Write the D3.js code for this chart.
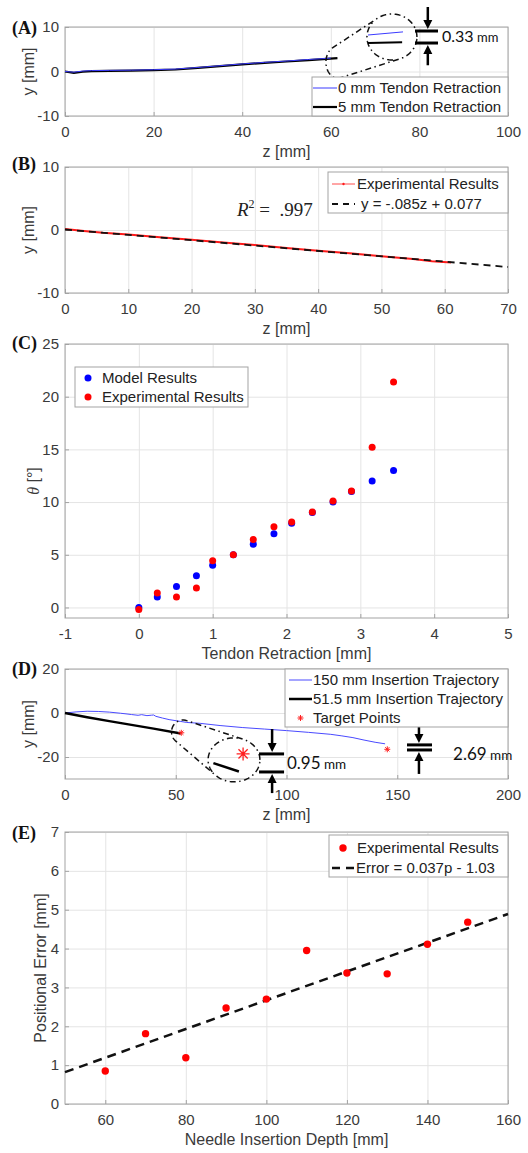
<!DOCTYPE html>
<html><head><meta charset="utf-8">
<script src="https://cdn.jsdelivr.net/npm/d3@7"></script>
<style>
body{margin:0;background:#fff}
svg{display:block}
</style>
</head><body>
<svg id="c" width="528" height="1153" font-family='"Liberation Sans",Arial,Helvetica,sans-serif'></svg>
<script>
// ---------------- DATA ----------------
// Panel A
const aBlackZ = [0,2,4,6,10,15,20,25,30,35,40,45,50,55,61.5];
const aBlackY = [0,-0.3,-0.05,0.1,0.15,0.2,0.3,0.45,0.8,1.2,1.6,1.95,2.25,2.55,3.0];
const aBlueZ  = [0,2,4,6,10,15,20,25,30,35,40,45,50,55,60];
const aBlueY  = [0,-0.15,0.1,0.2,0.25,0.3,0.4,0.55,0.9,1.3,1.7,2.05,2.35,2.7,3.0];
const aXTicks = [0,20,40,60,80,100];
const aYTicks = [-10,0,10];
const aLegend = ["0 mm Tendon Retraction","5 mm Tendon Retraction"];
// Panel B
const bExpZ = [0,3,6,10,15,20,25,30,35,40,45,50,55,58,61];
const bExpY = [0.15,-0.15,-0.45,-0.7,-1.15,-1.55,-2.0,-2.4,-2.85,-3.3,-3.7,-4.15,-4.6,-4.95,-5.15];
const bFit = {slope:-0.085, intercept:0.077, from:0, to:70};
const bXTicks = [0,10,20,30,40,50,60,70];
const bYTicks = [-10,0,10];
const bLegend = ["Experimental Results","y = -.085z + 0.077"];
// Panel C
const cRetraction = [0,0.25,0.51,0.78,1.0,1.28,1.55,1.83,2.07,2.35,2.63,2.88,3.16,3.45];
const cModel = [0,1,2,3,4,5,6,7,8,9,10,11,12,13];
const cExp   = [-0.2,1.37,1.0,1.84,4.44,5.0,6.44,7.65,8.1,9.05,10.1,11.05,15.2,21.4];
const cXTicks = [-1,0,1,2,3,4,5];
const cYTicks = [0,5,10,15,20,25];
const cLegend = ["Model Results","Experimental Results"];
// Panel D
const d150Z = [0,5,10,15,20,25,28,30,33,34.6,37,39,40,41,44,47,52,55,61,70,80,90,100,110,120,125,130,135,140,144.5];
const d150Y = [0,0.5,0.8,0.7,0.4,-0.1,-0.45,-0.7,-1.05,-0.75,-1.2,-1.0,-0.9,-1.5,-2.3,-3.0,-3.8,-4.3,-4.7,-5.7,-6.6,-7.3,-8.0,-8.8,-9.7,-10.4,-11.2,-12.3,-13.3,-14.0];
const d515Z = [0,10,20,30,40,52.3];
const d515Y = [0,-1.9,-3.7,-5.4,-7.1,-9.3];
const dTargetZ = [52.5,145.5];
const dTargetY = [-9,-16.5];
const dXTicks = [0,50,100,150,200];
const dYTicks = [-20,0,20];
const dLegend = ["150 mm Insertion Trajectory","51.5 mm Insertion Trajectory","Target Points"];
// Panel E
const eDepth = [60,70,80,90,100,110,120,130,140,150];
const eError = [0.85,1.81,1.19,2.47,2.70,3.95,3.37,3.35,4.11,4.68];
const eFit = {slope:0.037, intercept:-1.03, from:50, to:160};
const eXTicks = [60,80,100,120,140,160];
const eYTicks = [0,1,2,3,4,5,6,7];
const eLegend = ["Experimental Results","Error = 0.037p - 1.03"];

// ---------------- LAYOUT ----------------
const svg = d3.select('#c');
const L = 65, R = 508;
const GRID = '#e4e4e4', FRAME = '#a3a3a3', TXT = '#3a3a3a';
const SANS = '"Liberation Sans",Arial,Helvetica,sans-serif';
const SERIF = '"Liberation Serif","Times New Roman",serif';
const CAL = 'Lato,"Open Sans",sans-serif';

function makePanel(o){
  const x = d3.scaleLinear().domain(o.xd).range([L,R]);
  const y = d3.scaleLinear().domain(o.yd).range([o.bottom,o.top]);
  const g = svg.append('g');
  const h = o.bottom-o.top, w = R-L;
  const gx = g.append('g').attr('transform',`translate(0,${o.bottom})`)
    .call(d3.axisBottom(x).tickValues(o.xticks).tickSize(-h).tickPadding(10).tickFormat(d=>String(d)));
  const gy = g.append('g').attr('transform',`translate(${L},0)`)
    .call(d3.axisLeft(y).tickValues(o.yticks).tickSize(-w).tickPadding(6).tickFormat(d=>String(d)));
  [gx,gy].forEach(a=>{
    a.select('.domain').remove();
    a.selectAll('line').attr('stroke',GRID).attr('stroke-width',1);
    a.selectAll('text').style('font-size','15px').style('font-family',SANS).attr('fill',TXT);
  });
  const tx = g.append('g').attr('transform',`translate(0,${o.bottom})`)
    .call(d3.axisBottom(x).tickValues(o.xticks).tickSize(-4).tickFormat(''));
  const ty = g.append('g').attr('transform',`translate(${L},0)`)
    .call(d3.axisLeft(y).tickValues(o.yticks).tickSize(-4).tickFormat(''));
  [tx,ty].forEach(a=>{a.select('.domain').remove(); a.selectAll('line').attr('stroke',FRAME);});
  g.append('rect').attr('x',L).attr('y',o.top).attr('width',w).attr('height',h)
    .attr('fill','none').attr('stroke',FRAME).attr('stroke-width',1);
  g.append('text').attr('x',(L+R)/2).attr('y',o.bottom+41).attr('text-anchor','middle')
    .style('font-size','16px').style('font-family',SANS).attr('fill',TXT).text(o.xlabel);
  const yl = g.append('text').attr('transform',`translate(${o.ylx},${(o.top+o.bottom)/2}) rotate(-90)`)
    .attr('text-anchor','middle').style('font-size','16px').style('font-family',SANS).attr('fill',TXT);
  if (o.ylabelParts) o.ylabelParts.forEach(p=>{
    const ts = yl.append('tspan').text(p.t);
    if (p.italic) ts.style('font-style','italic').style('font-family',SERIF);
  });
  else yl.text(o.ylabel);
  svg.append('text').attr('x',12).attr('y',o.tagY).style('font-family',SERIF)
    .style('font-weight','bold').style('font-size','18px').attr('fill','#111').text(o.tag);
  return {g,x,y};
}

function legendBox(g, x0, y0, x1, y1){
  g.append('rect').attr('x',x0).attr('y',y0).attr('width',x1-x0).attr('height',y1-y0)
    .attr('fill','#fff').attr('stroke',FRAME).attr('stroke-width',1);
}
function legendText(g, x, yc, t){
  g.append('text').attr('x',x).attr('y',yc).attr('dy','0.35em').style('font-size','15px').style('font-family',SANS)
    .style('white-space','pre').attr('fill','#222').text(t);
}
function asterisk(g, cx, cy, r, color, sw){
  const p = d3.path();
  for (let k=0;k<4;k++){
    const a = k*Math.PI/4;
    p.moveTo(cx - r*Math.cos(a), cy - r*Math.sin(a));
    p.lineTo(cx + r*Math.cos(a), cy + r*Math.sin(a));
  }
  g.append('path').attr('d',p.toString()).attr('stroke',color).attr('stroke-width',sw).attr('fill','none');
}
const DASHDOT = '6,3.5,1.5,3.5';
function ellPts(e, n){ const pts=[]; for(let i=0;i<n;i++){const t=i/n*2*Math.PI; pts.push([e.cx+e.rx*Math.cos(t), e.cy+e.ry*Math.sin(t)]);} return pts; }
function hull(g, ells){
  let pts = [];
  ells.forEach(e=>{ pts = pts.concat(ellPts(e,120)); });
  const hp = d3.polygonHull(pts);
  g.append('path').attr('d','M'+hp.map(p=>p.join(',')).join('L')+'Z').attr('fill','none')
    .attr('stroke','#111').attr('stroke-width',1.5).attr('stroke-dasharray',DASHDOT);
  // inner arc of the big loop (the side facing the small loop)
  const [sm,big] = ells;
  const phi = Math.atan2((sm.cy-big.cy)/big.ry,(sm.cx-big.cx)/big.rx);
  const arc = [];
  for (let i=0;i<=40;i++){ const t = phi-1.15+2.3*i/40; arc.push([big.cx+big.rx*Math.cos(t), big.cy+big.ry*Math.sin(t)]); }
  g.append('path').attr('d',d3.line()(arc)).attr('fill','none')
    .attr('stroke','#111').attr('stroke-width',1.5).attr('stroke-dasharray',DASHDOT);
}
function arrow(g, x, yFrom, yTo){
  const dir = Math.sign(yTo-yFrom);
  g.append('line').attr('x1',x).attr('x2',x).attr('y1',yFrom).attr('y2',yTo-dir*6).attr('stroke','#000').attr('stroke-width',2.5);
  g.append('path').attr('d',`M${x-4.5},${yTo-dir*9}L${x+4.5},${yTo-dir*9}L${x},${yTo}Z`).attr('fill','#000');
}
function bar(g, x0, x1, yv){
  g.append('line').attr('x1',x0).attr('x2',x1).attr('y1',yv).attr('y2',yv).attr('stroke','#000').attr('stroke-width',3);
}
function measureText(g, x, yb, num, fs1, fs2){
  const t = g.append('text').attr('x',x).attr('y',yb).attr('fill','#111').style('font-family',CAL);
  t.append('tspan').style('font-size',fs1+'px').text(num);
  t.append('tspan').style('font-size',fs2+'px').text(' mm');
}

// ---------------- PANEL A ----------------
{
  const {g,x,y} = makePanel({top:27,bottom:116,xd:[0,100],yd:[-10,10],xticks:aXTicks,yticks:aYTicks,
    xlabel:'z [mm]',ylabel:'y [mm]',ylx:34,tag:'(A)',tagY:34});
  const line = d3.line().x(d=>x(d[0])).y(d=>y(d[1]));
  g.append('path').attr('d',line(d3.zip(aBlackZ,aBlackY))).attr('fill','none').attr('stroke','#000').attr('stroke-width',2.2);
  g.append('path').attr('d',line(d3.zip(aBlueZ,aBlueY))).attr('fill','none').attr('stroke','#3b3bff').attr('stroke-width',1);
  hull(g,[{cx:x(61.6),cy:y(2.1),rx:x(2.7)-x(0),ry:y(0)-y(3.6)},{cx:x(73.8),cy:y(7.75),rx:x(5.64)-x(0),ry:y(0)-y(5.17)}]);
  g.append('line').attr('x1',x(68.4)).attr('x2',x(76.3)).attr('y1',y(8.2)).attr('y2',y(8.9)).attr('stroke','#3b3bff').attr('stroke-width',1);
  g.append('line').attr('x1',x(68.4)).attr('x2',x(76.1)).attr('y1',y(6.4)).attr('y2',y(6.6)).attr('stroke','#000').attr('stroke-width',2);
  arrow(g, x(81.9), y(14.5), y(9.1)-2);
  bar(g, x(79), x(84.2), y(9.1));
  bar(g, x(79), x(84.2), y(6.4));
  arrow(g, x(81.9), y(1.4), y(6.4)+2);
  measureText(g, x(85.1), y(6.7), '0.33', 16, 13);
  legendBox(g,312,77,508,116);
  g.append('line').attr('x1',313).attr('x2',337).attr('y1',88).attr('y2',88).attr('stroke','#3b3bff').attr('stroke-width',1);
  legendText(g,338,88,aLegend[0]);
  g.append('line').attr('x1',313).attr('x2',337).attr('y1',107).attr('y2',107).attr('stroke','#000').attr('stroke-width',2.2);
  legendText(g,338,107,aLegend[1]);
}

// ---------------- PANEL B ----------------
{
  const {g,x,y} = makePanel({top:167,bottom:293,xd:[0,70],yd:[-10,10],xticks:bXTicks,yticks:bYTicks,
    xlabel:'z [mm]',ylabel:'y [mm]',ylx:34,tag:'(B)',tagY:170});
  const line = d3.line().x(d=>x(d[0])).y(d=>y(d[1]));
  g.append('path').attr('d',line(d3.zip(bExpZ,bExpY))).attr('fill','none').attr('stroke','#ff1a1a').attr('stroke-width',2);
  const fitPts = [bFit.from,bFit.to].map(z=>[z,bFit.slope*z+bFit.intercept]);
  g.append('path').attr('d',line(fitPts)).attr('fill','none').attr('stroke','#111').attr('stroke-width',1.8).attr('stroke-dasharray','7,5');
  const r2 = g.append('text').attr('x',237).attr('y',216).style('font-family',SERIF).style('font-size','19px').attr('fill','#222');
  r2.append('tspan').style('font-style','italic').text('R');
  r2.append('tspan').style('font-size','12px').attr('dy',-8).text('2');
  r2.append('tspan').attr('dy',8).style('white-space','pre').text(' =  .997');
  legendBox(g,328,172,508,213);
  g.append('line').attr('x1',332).attr('x2',355).attr('y1',184).attr('y2',184).attr('stroke','#ff4d4d').attr('stroke-width',1);
  g.append('circle').attr('cx',343.5).attr('cy',184).attr('r',1.2).attr('fill','#ff1a1a');
  legendText(g,357,184,bLegend[0]);
  g.append('line').attr('x1',332).attr('x2',355).attr('y1',204).attr('y2',204).attr('stroke','#111').attr('stroke-width',1.8).attr('stroke-dasharray','6,5');
  legendText(g,361,204,bLegend[1]);
}

// ---------------- PANEL C ----------------
{
  const {g,x,y} = makePanel({top:344,bottom:618,xd:[-1,5],yd:[-1,25],xticks:cXTicks,yticks:cYTicks,
    xlabel:'Tendon Retraction [mm]',ylabelParts:[{t:'θ',italic:true},{t:' [°]'}],ylx:39,tag:'(C)',tagY:349});
  g.selectAll('.m').data(d3.zip(cRetraction,cModel)).join('circle').attr('class','m')
    .attr('cx',d=>x(d[0])).attr('cy',d=>y(d[1])).attr('r',3.5).attr('fill','#0000ff');
  g.selectAll('.e').data(d3.zip(cRetraction,cExp)).join('circle').attr('class','e')
    .attr('cx',d=>x(d[0])).attr('cy',d=>y(d[1])).attr('r',3.5).attr('fill','#ff0000');
  legendBox(g,75,367,248,407);
  g.append('circle').attr('cx',88).attr('cy',378).attr('r',3.5).attr('fill','#0000ff');
  legendText(g,102,378,cLegend[0]);
  g.append('circle').attr('cx',88).attr('cy',397).attr('r',3.5).attr('fill','#ff0000');
  legendText(g,102,397,cLegend[1]);
}

// ---------------- PANEL D ----------------
{
  const {g,x,y} = makePanel({top:669,bottom:779,xd:[0,200],yd:[-30,20],xticks:dXTicks,yticks:dYTicks,
    xlabel:'z [mm]',ylabel:'y [mm]',ylx:34,tag:'(D)',tagY:675});
  const line = d3.line().x(d=>x(d[0])).y(d=>y(d[1]));
  g.append('path').attr('d',line(d3.zip(d150Z,d150Y))).attr('fill','none').attr('stroke','#4a4aff').attr('stroke-width',1);
  g.append('path').attr('d',line(d3.zip(d515Z,d515Y))).attr('fill','none').attr('stroke','#000').attr('stroke-width',2.5);
  d3.zip(dTargetZ,dTargetY).forEach(d=>asterisk(g,x(d[0]),y(d[1]),3,'#ff2020',1));
  hull(g,[{cx:x(53.3),cy:y(-8.6),rx:x(5.2)-x(0),ry:y(0)-y(5.4)},{cx:x(76.3),cy:y(-21.3),rx:x(11.7)-x(0),ry:y(0)-y(10.0)}]);
  asterisk(g,x(80.4),y(-18.6),6.5,'#ff2020',1.3);
  g.append('line').attr('x1',x(67)).attr('x2',x(78.5)).attr('y1',y(-22.8)).attr('y2',y(-26.6)).attr('stroke','#000').attr('stroke-width',2.5);
  arrow(g,x(93.5),y(-7.3),y(-18.6)-2);
  bar(g,x(87.6),x(98.9),y(-18.6));
  bar(g,x(87.6),x(98.9),y(-26.8));
  arrow(g,x(93.5),y(-36.4),y(-26.8)+2);
  measureText(g,x(100.2),y(-25.5),'0.95',17,13.5);
  arrow(g,x(159.8),y(-5),y(-14.5)-2);
  bar(g,x(154.4),x(165.7),y(-14.5));
  bar(g,x(154.4),x(165.7),y(-16.8));
  arrow(g,x(159.8),y(-27.7),y(-16.8)+2);
  measureText(g,x(175.2),y(-21.4),'2.69',17,13.5);
  legendBox(g,285,669,508,727);
  g.append('line').attr('x1',289).attr('x2',312).attr('y1',680).attr('y2',680).attr('stroke','#4a4aff').attr('stroke-width',1);
  legendText(g,313,680,dLegend[0]);
  g.append('line').attr('x1',289).attr('x2',312).attr('y1',699).attr('y2',699).attr('stroke','#000').attr('stroke-width',2.5);
  legendText(g,313,699,dLegend[1]);
  asterisk(g,300.5,718,3,'#ff2020',1);
  legendText(g,313,718,dLegend[2]);
}

// ---------------- PANEL E ----------------
{
  const {g,x,y} = makePanel({top:832,bottom:1104,xd:[50,160],yd:[0,7],xticks:eXTicks,yticks:eYTicks,
    xlabel:'Needle Insertion Depth [mm]',ylabel:'Positional Error [mm]',ylx:46,tag:'(E)',tagY:839});
  const line = d3.line().x(d=>x(d[0])).y(d=>y(d[1]));
  const fitPts = [eFit.from,eFit.to].map(p=>[p,eFit.slope*p+eFit.intercept]);
  g.append('path').attr('d',line(fitPts)).attr('fill','none').attr('stroke','#111').attr('stroke-width',2.5).attr('stroke-dasharray','9,6');
  g.selectAll('.e').data(d3.zip(eDepth,eError)).join('circle').attr('class','e')
    .attr('cx',d=>x(d[0])).attr('cy',d=>y(d[1])).attr('r',3.7).attr('fill','#ff0000');
  legendBox(g,329,835,508,877);
  g.append('circle').attr('cx',343).attr('cy',848).attr('r',3.7).attr('fill','#ff0000');
  legendText(g,357,848,eLegend[0]);
  g.append('line').attr('x1',332).attr('x2',355).attr('y1',868).attr('y2',868).attr('stroke','#111').attr('stroke-width',2.5).attr('stroke-dasharray','8,6');
  legendText(g,356,868,eLegend[1]);
}
</script>
</body></html>
